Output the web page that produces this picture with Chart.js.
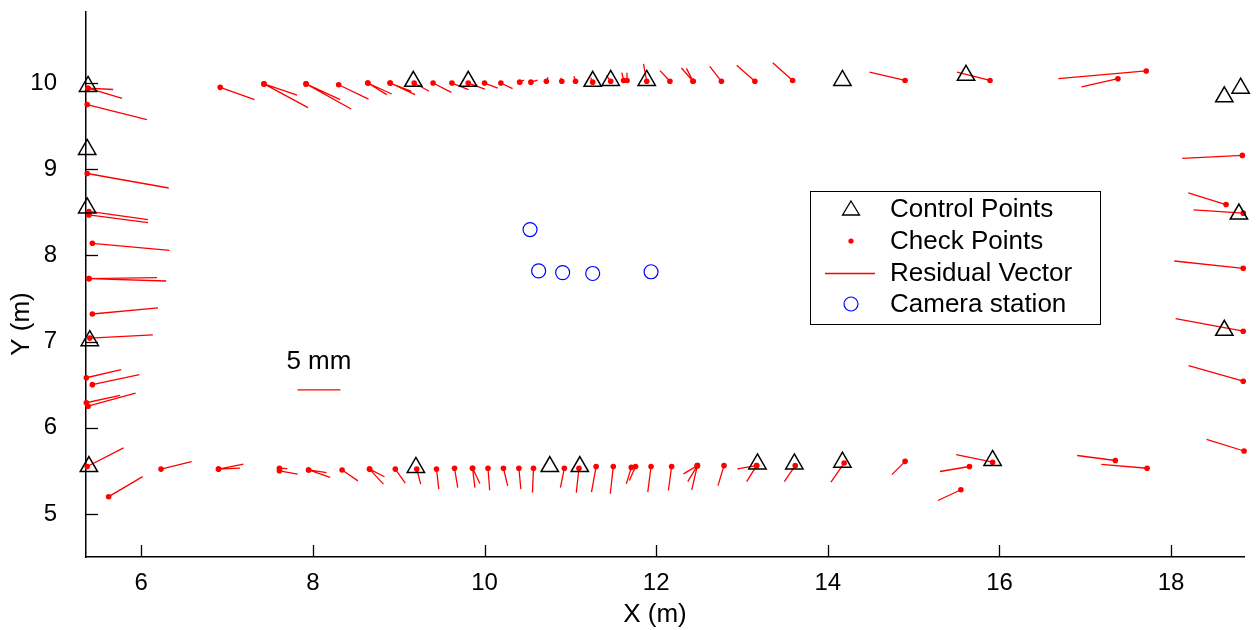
<!DOCTYPE html>
<html>
<head>
<meta charset="utf-8">
<script src="https://cdn.jsdelivr.net/npm/chart.js@4.4.1/dist/chart.umd.min.js"></script>
<style>
html, body { margin: 0; padding: 0; background: #fff; }
#wrap { width: 1256px; height: 630px; }
</style>
</head>
<body>
<div id="wrap"><canvas id="chart" width="1256" height="630"></canvas></div>
<script>
// axes
var xTicks = [6, 8, 10, 12, 14, 16, 18];
var yTicks = [5, 6, 7, 8, 9, 10];
var X_MIN = 5.356, X_MAX = 18.855;
var Y_MIN = 4.5, Y_MAX = 10.83;

// control points (m)
var ctrlX = [5.38, 5.37, 5.37, 5.40, 5.39, 9.20, 10.76, 11.11, 13.18, 13.61, 14.17, 15.92,
             18.62, 18.79, 18.62, 18.81, 9.17, 9.81, 11.26, 11.47, 11.89, 14.17, 15.61];
var ctrlY = [9.96, 9.23, 8.55, 7.01, 5.55, 5.54, 5.55, 5.55, 5.58, 5.58, 5.60, 5.62,
             7.13, 8.48, 9.84, 9.94, 10.02, 10.02, 10.02, 10.03, 10.03, 10.03, 10.09];

// check points (m) and their residuals (mm)
var chkX = [5.38, 5.38, 5.37, 5.37, 5.39, 5.39, 5.43, 5.39, 5.39, 5.43, 5.40, 5.36, 5.43, 5.36, 5.38, 5.37, 5.62,
            6.23, 6.90, 6.90, 7.61, 7.61, 7.95, 7.95, 8.34, 8.66, 8.66, 8.96, 9.21, 9.44, 9.65, 9.86, 9.86,
            10.04, 10.22, 10.40, 10.57, 10.93, 11.10, 11.30, 11.50, 11.71, 11.76, 11.94, 12.18, 12.48, 12.48,
            12.48, 12.79, 13.17, 13.17, 13.62, 14.19, 14.90, 15.65, 15.55, 15.92, 17.35, 17.72, 18.85,
            18.84, 18.84, 18.84, 18.84, 18.64, 18.83,
            17.71, 17.38, 15.89, 14.90, 13.59, 13.15, 12.76, 12.43, 12.43, 12.16, 11.89, 11.62, 11.66, 11.47,
            11.26, 11.06, 10.90, 10.72, 10.54, 10.41, 10.19, 10.00, 9.81, 9.62, 9.40, 9.18, 8.90, 8.90,
            8.64, 8.64, 8.30, 7.92, 7.92, 7.43, 7.43, 6.92];
var chkY = [9.94, 9.94, 9.75, 8.95, 8.51, 8.47, 8.14, 7.73, 7.73, 7.32, 7.04, 6.58, 6.50, 6.29, 6.25, 5.55, 5.20,
            5.52, 5.52, 5.52, 5.50, 5.53, 5.51, 5.51, 5.51, 5.52, 5.52, 5.52, 5.52, 5.52, 5.53, 5.53, 5.53,
            5.53, 5.53, 5.53, 5.53, 5.53, 5.53, 5.55, 5.55, 5.54, 5.55, 5.55, 5.55, 5.56, 5.56,
            5.56, 5.56, 5.56, 5.56, 5.56, 5.59, 5.61, 5.55, 5.28, 5.60, 5.62, 5.53, 5.73,
            6.54, 7.12, 7.85, 8.49, 8.59, 9.16,
            10.14, 10.05, 10.03, 10.03, 10.03, 10.02, 10.02, 10.02, 10.02, 10.02, 10.02, 10.03, 10.03, 10.02,
            10.01, 10.02, 10.02, 10.02, 10.01, 10.01, 10.00, 10.00, 10.00, 10.00, 10.00, 10.00, 10.00, 10.00,
            10.00, 10.00, 9.98, 9.99, 9.99, 9.99, 9.99, 9.95];
var resDX = [2.93, 3.97, 6.95, 9.50, 6.88, 6.88, 8.99, 7.93, 9.00, 7.65, 7.35, 4.06, 5.48, 3.94, 5.53, 4.24, 3.96,
             3.56, 2.90, 2.51, 2.12, 0.93, 2.51, 2.09, 1.85, 1.62, 1.74, 1.16, 0.46, 0.27, 0.38, 0.28, 0.86,
             0.20, 0.50, 0.23, -0.12, -0.46, -0.31, -0.54, -0.35, -0.58, -0.73, -0.38, -0.38, -1.62, -0.66,
             -1.12, -0.70, -2.24, -1.16, -1.27, -1.54, -1.54, -3.44, -2.67, -4.24, -4.45, -5.33, -4.37,
             -6.37, -7.88, -8.03, -5.79, -4.40, -7.00,
             -10.24, -4.24, -3.86, -4.14, -2.32, -2.12, -1.36, -1.36, -0.78, -1.16, -0.38, -0.20, 0.00, -0.50,
             -0.23, -0.19, -0.12, 0.20, 0.78, 0.50, 1.36, 1.54, 1.93, 1.93, 2.12, 1.74, 2.90, 2.48,
             2.78, 2.20, 3.48, 5.26, 3.98, 3.86, 5.13, 4.00];
var resDY = [-0.15, -1.19, -1.74, -1.68, -0.96, -0.89, -0.81, 0.12, -0.27, 0.70, 0.38, 0.93, 1.16, 0.86, 1.51, 2.17, 2.32,
             0.88, 0.58, 0.12, -0.38, -0.04, -0.86, -0.31, -1.27, -1.74, -0.89, -1.62, -1.74, -2.32, -2.25, -2.25, -1.78,
             -2.55, -2.05, -2.43, -2.83, -2.25, -2.83, -2.98, -3.16, -1.92, -1.62, -2.98, -2.78, -0.96, -2.82,
             -1.85, -2.32, -0.38, -1.85, -1.85, -2.20, -1.54, -0.58, -1.24, 0.89, 0.58, 0.46, 1.36,
             1.82, 1.47, 0.85, 0.39, 1.34, -0.35,
             -0.89, -0.96, 0.96, 0.96, 2.04, 1.85, 1.74, 1.54, 1.50, 1.24, 2.01, 0.90, 0.90, 0.70,
             0.52, 0.58, 0.38, 0.46, 0.23, 0.23, -0.65, -0.58, -0.70, -0.76, -1.08, -0.96, -1.34, -0.96,
             -1.27, -1.34, -1.67, -2.92, -1.83, -1.31, -2.75, -1.43];

// camera stations (m)
var camX = [10.53, 10.63, 10.91, 11.26, 11.94];
var camY = [8.30, 7.82, 7.80, 7.79, 7.81];

// residual drawing scale: 1 mm on the plot = 0.1 m, scale bar is 5 mm
var VEC_SCALE = 0.1;
var scaleBarLen = 5;
var scaleBarX = 7.82, scaleBarY = 6.44;
var scaleLabel = '5 mm';

var FONT = '"Liberation Sans", Arial, sans-serif';

function pts(xs, ys) {
  return xs.map(function (x, i) { return { x: x, y: ys[i] }; });
}

var vecs = [];
for (var i = 0; i < chkX.length; i++) {
  vecs.push({ x: chkX[i], y: chkY[i] });
  vecs.push({ x: chkX[i] + resDX[i] * VEC_SCALE, y: chkY[i] + resDY[i] * VEC_SCALE });
  vecs.push({ x: null, y: null });
}
var scaleBar = [{ x: scaleBarX, y: scaleBarY }, { x: scaleBarX + scaleBarLen * VEC_SCALE, y: scaleBarY }];

var legendItems = ['Control Points', 'Check Points', 'Residual Vector', 'Camera station'];

function noPad(s) {
  s.paddingLeft = 0; s.paddingRight = 0; s.paddingTop = 0; s.paddingBottom = 0;
}

// inward ticks, axis titles, scale label and the boxed legend
var decor = {
  id: 'decor',
  afterDraw: function (c) {
    var ctx = c.ctx, xs = c.scales.x, ys = c.scales.y, a = c.chartArea;
    ctx.save();
    ctx.strokeStyle = '#000';
    ctx.lineWidth = 1.3;
    xTicks.forEach(function (v) {
      var p = Math.round(xs.getPixelForValue(v)) + 0.5;
      ctx.beginPath(); ctx.moveTo(p, a.bottom); ctx.lineTo(p, a.bottom - 12); ctx.stroke();
    });
    yTicks.forEach(function (v) {
      var p = Math.round(ys.getPixelForValue(v)) + 0.5;
      ctx.beginPath(); ctx.moveTo(a.left, p); ctx.lineTo(a.left + 12, p); ctx.stroke();
    });

    ctx.fillStyle = '#000';
    ctx.font = '26px ' + FONT;
    ctx.textAlign = 'center';
    ctx.textBaseline = 'middle';
    ctx.fillText('X (m)', 655, 615);
    ctx.save();
    ctx.translate(22, 324);
    ctx.rotate(-Math.PI / 2);
    ctx.fillText('Y (m)', 0, 0);
    ctx.restore();

    ctx.textBaseline = 'alphabetic';
    ctx.fillText(scaleLabel, xs.getPixelForValue(scaleBarX + scaleBarLen * VEC_SCALE / 2), ys.getPixelForValue(scaleBarY) - 21);

    // legend
    var bx = 810.5, by = 191.5, bw = 290, bh = 133;
    ctx.fillStyle = '#fff';
    ctx.fillRect(bx, by, bw, bh);
    ctx.strokeStyle = '#000';
    ctx.lineWidth = 1;
    ctx.strokeRect(bx, by, bw, bh);
    var rows = [209, 241, 273, 304];
    var sx = 851;
    ctx.lineWidth = 1.3;
    ctx.beginPath();
    ctx.moveTo(sx, rows[0] - 8); ctx.lineTo(sx + 8.5, rows[0] + 6); ctx.lineTo(sx - 8.5, rows[0] + 6); ctx.closePath();
    ctx.stroke();
    ctx.fillStyle = '#ff0000';
    ctx.beginPath(); ctx.arc(sx, rows[1], 2.6, 0, Math.PI * 2); ctx.fill();
    ctx.strokeStyle = '#ff0000';
    ctx.lineWidth = 1.3;
    ctx.beginPath(); ctx.moveTo(825, rows[2] + 0.5); ctx.lineTo(875, rows[2] + 0.5); ctx.stroke();
    ctx.strokeStyle = '#0000ff';
    ctx.lineWidth = 1.2;
    ctx.beginPath(); ctx.arc(sx, rows[3], 7, 0, Math.PI * 2); ctx.stroke();

    ctx.fillStyle = '#000';
    ctx.textAlign = 'left';
    ctx.textBaseline = 'middle';
    legendItems.forEach(function (t, k) { ctx.fillText(t, 890, rows[k] + 1); });
    ctx.restore();
  }
};

var chart = new Chart(document.getElementById('chart'), {
  type: 'scatter',
  data: {
    datasets: [
      { label: legendItems[0], data: pts(ctrlX, ctrlY), pointStyle: 'triangle', pointRadius: 10,
        borderColor: '#000', borderWidth: 1.5, backgroundColor: 'rgba(0,0,0,0)', clip: false, order: 0 },
      { label: legendItems[1], data: pts(chkX, chkY), pointStyle: 'circle', pointRadius: 2.8,
        borderWidth: 0, backgroundColor: '#ff0000', clip: false, order: 1 },
      { label: legendItems[2], data: vecs, showLine: true, spanGaps: false, pointRadius: 0,
        borderColor: '#ff0000', borderWidth: 1.3, clip: false, order: 2 },
      { label: legendItems[3], data: pts(camX, camY), pointStyle: 'circle', pointRadius: 7,
        borderColor: '#0000ff', borderWidth: 1.2, backgroundColor: 'rgba(0,0,0,0)', order: 3 },
      { label: 'scale', data: scaleBar, showLine: true, pointRadius: 0,
        borderColor: '#ff0000', borderWidth: 1.3, order: 2 }
    ]
  },
  options: {
    responsive: false,
    animation: false,
    layout: { padding: { left: 0, right: 5, top: 10, bottom: 0 } },
    plugins: { legend: { display: false }, tooltip: { enabled: false } },
    scales: {
      x: {
        type: 'linear', min: X_MIN, max: X_MAX,
        afterBuildTicks: function (s) { s.ticks = xTicks.map(function (v) { return { value: v }; }); },
        afterFit: function (s) { s.height = 73; noPad(s); },
        grid: { drawOnChartArea: false, drawTicks: false },
        border: { color: '#000', width: 1.5 },
        ticks: { color: '#000', font: { family: FONT, size: 24 }, padding: 12, maxRotation: 0, autoSkip: false }
      },
      y: {
        type: 'linear', min: Y_MIN, max: Y_MAX,
        afterBuildTicks: function (s) { s.ticks = yTicks.map(function (v) { return { value: v }; }); },
        afterFit: function (s) { s.width = 86; noPad(s); },
        grid: { drawOnChartArea: false, drawTicks: false },
        border: { color: '#000', width: 1.5 },
        ticks: { color: '#000', font: { family: FONT, size: 24 }, padding: 29, autoSkip: false }
      }
    }
  },
  plugins: [decor]
});
</script>
</body>
</html>
